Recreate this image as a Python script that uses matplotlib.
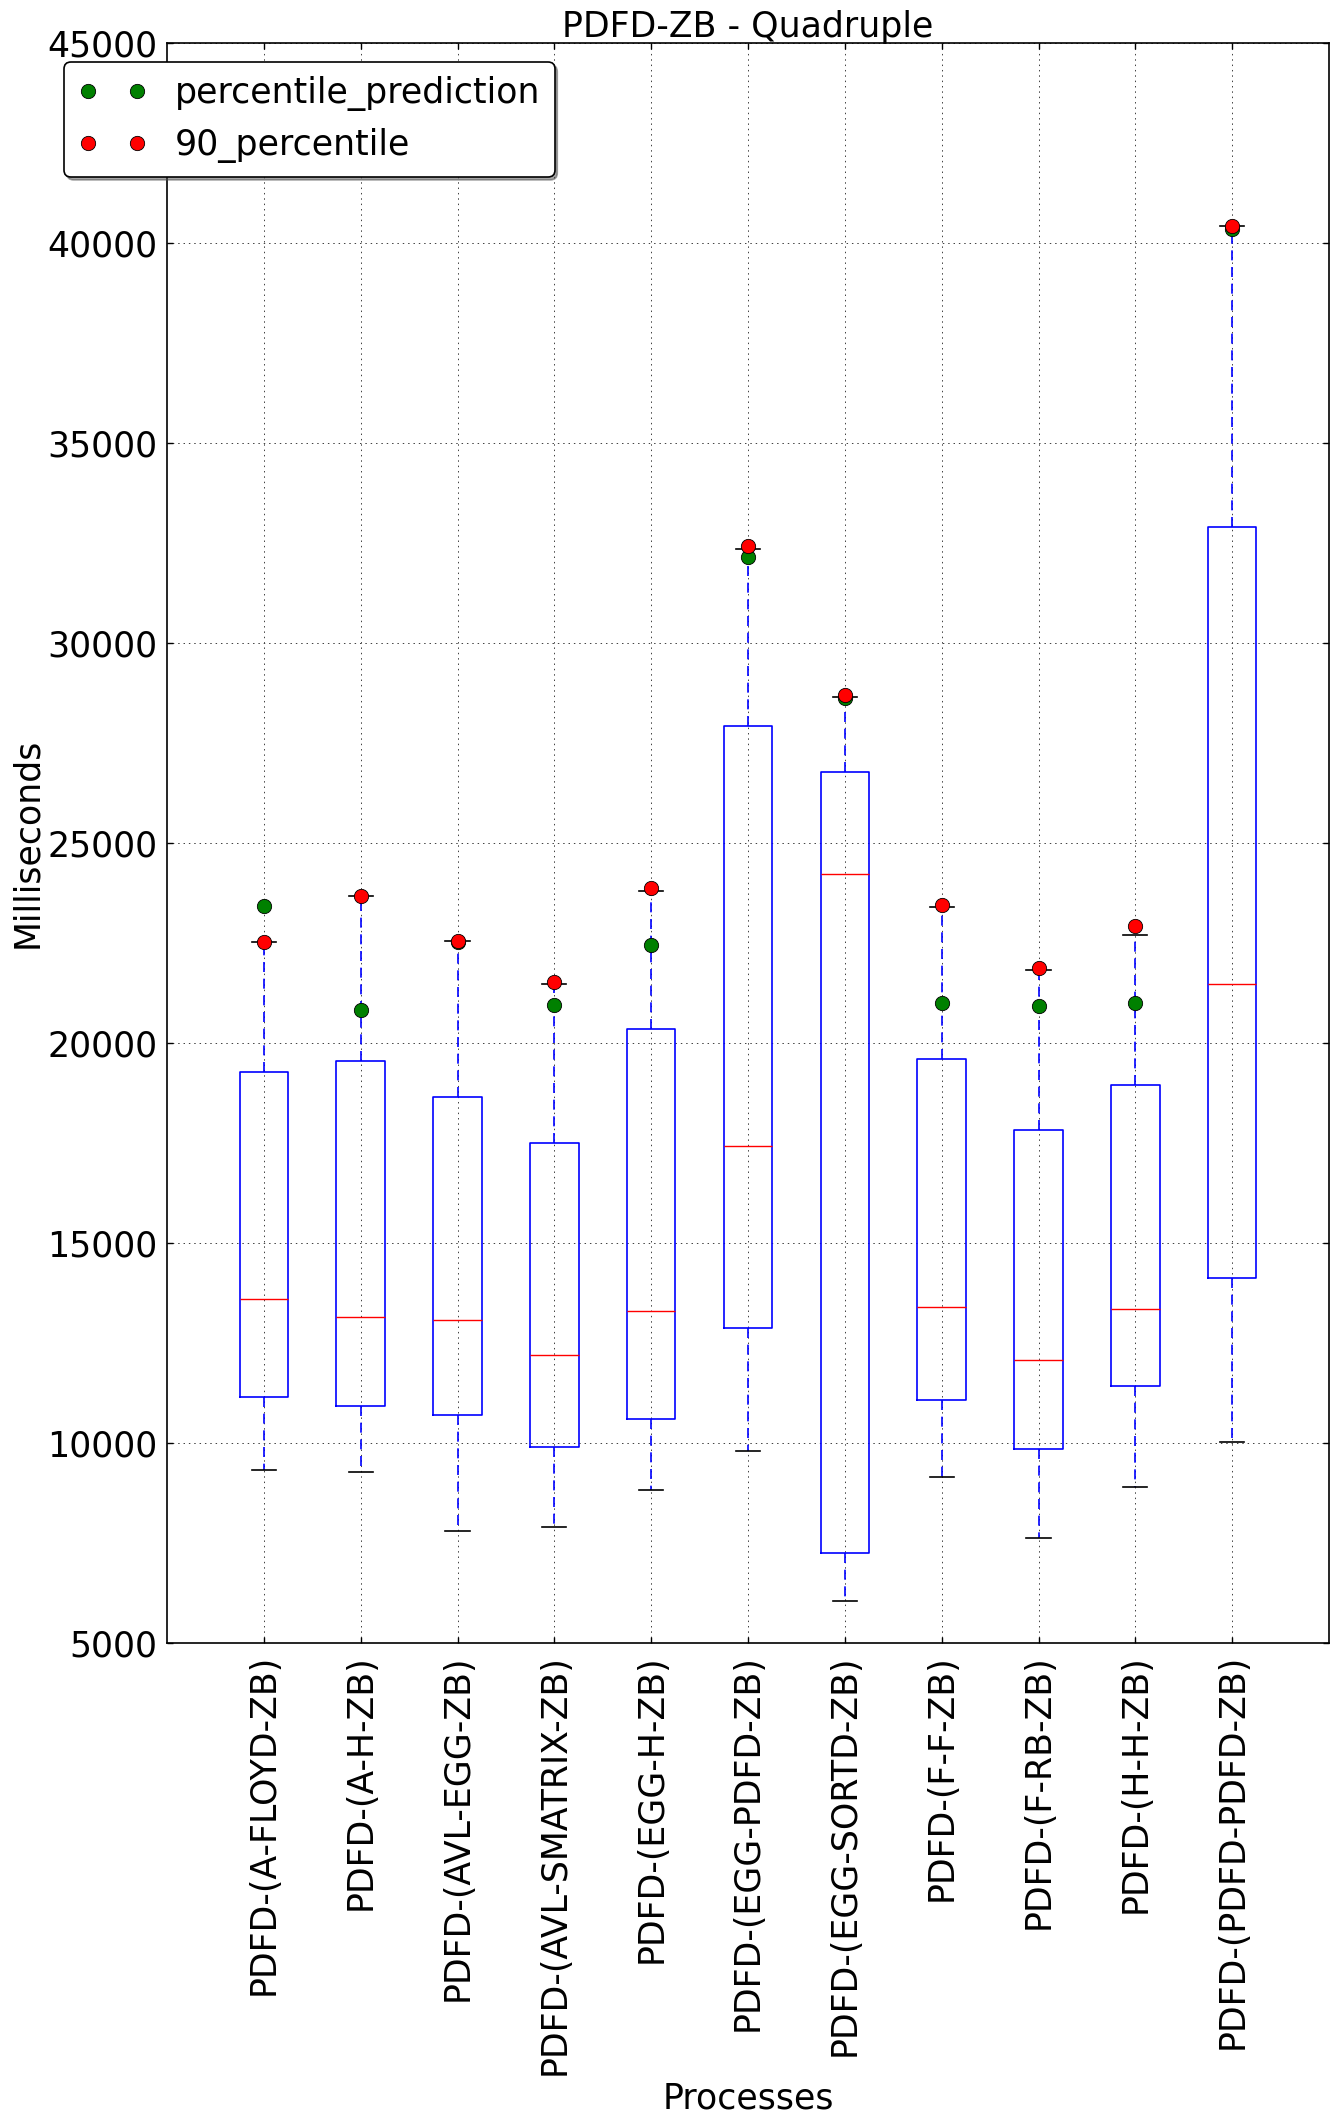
import matplotlib
matplotlib.use("Agg")
import matplotlib.pyplot as plt

labels = ['PDFD-(A-FLOYD-ZB)', 'PDFD-(A-H-ZB)', 'PDFD-(AVL-EGG-ZB)',
          'PDFD-(AVL-SMATRIX-ZB)', 'PDFD-(EGG-H-ZB)', 'PDFD-(EGG-PDFD-ZB)',
          'PDFD-(EGG-SORTD-ZB)', 'PDFD-(F-F-ZB)', 'PDFD-(F-RB-ZB)',
          'PDFD-(H-H-ZB)', 'PDFD-(PDFD-PDFD-ZB)']
whislo = [9320, 9275, 7800, 7900, 8825, 9805, 6050, 9157, 7614, 8894, 10033]
q1 = [11150, 10927, 10704, 9900, 10600, 12873, 7255, 11068, 9840, 11418, 14135]
med = [13605, 13148, 13070, 12199, 13300, 17431, 24215, 13399, 12067, 13346, 21463]
q3 = [19275, 19542, 18650, 17500, 20343, 27914, 26775, 19605, 17834, 18956, 32893]
whishi = [22533, 23683, 22545, 21484, 23806, 32349, 28650, 23409, 21831, 22707, 40425]
pred = [23426, 20837, 22522, 20949, 22458, 32139, 28615, 21007, 20920, 20990, 40342]
p90 = [22533, 23683, 22545, 21529, 23863, 32419, 28703, 23444, 21866, 22935, 40425]
yticks = [5000, 10000, 15000, 20000, 25000, 30000, 35000, 40000, 45000]

plt.rcParams['font.family'] = ['DejaVu Sans']
FS = 25

W, H = 1339, 2128
fig = plt.figure(figsize=(W / 100, H / 100), dpi=100, facecolor='white')
ax = fig.add_axes([167 / W, 1 - 1643 / H, 1162 / W, 1600 / H])

positions = list(range(1, len(labels) + 1))
stats = []
for i in range(len(labels)):
    stats.append(dict(med=med[i], q1=q1[i], q3=q3[i], whislo=whislo[i],
                      whishi=whishi[i], fliers=[], label=labels[i]))

ax.bxp(stats, positions=positions, widths=0.5, showfliers=False,
       boxprops=dict(color='blue', linewidth=1.2),
       whiskerprops=dict(color='blue', linewidth=1.2, linestyle=(0, (6, 4))),
       capprops=dict(color='black', linewidth=1.2),
       medianprops=dict(color='red', linewidth=1.0),
       zorder=3)

ax.plot(positions, pred, 'o', color='green', markeredgecolor='black',
        markeredgewidth=0.6, markersize=10.3, label='percentile_prediction', zorder=4)
ax.plot(positions, p90, 'o', color='red', markeredgecolor='black',
        markeredgewidth=0.6, markersize=10.3, label='90_percentile', zorder=5)

ax.set_xlim(0, 12)
ax.set_ylim(5000, 45000)
ax.set_yticks(yticks)
ax.set_xticks(positions)
ax.set_xticklabels(labels, rotation=90)
ax.grid(True, color='0.25', linestyle=(0, (1.5, 4)), linewidth=0.7, zorder=0)
ax.set_axisbelow(True)

ax.tick_params(axis='both', direction='in', top=True, right=True, length=4,
               width=1, labelsize=FS)
ax.tick_params(axis='y', pad=7)
ax.tick_params(axis='x', pad=8)
for s in ax.spines.values():
    s.set_linewidth(1.2)

ax.set_title('PDFD-ZB - Quadruple', fontsize=FS, pad=4)
ax.set_ylabel('Milliseconds', fontsize=FS, labelpad=2)
ax.set_xlabel('Processes', fontsize=FS, labelpad=5)

leg = ax.legend(loc='upper left', bbox_to_anchor=(64 / W, 1 - 62 / H),
                bbox_transform=fig.transFigure, borderaxespad=0,
                numpoints=2, fontsize=FS, fancybox=True, shadow=True,
                framealpha=1, handlelength=2.0, edgecolor='black')
leg.get_frame().set_linewidth(1.2)

fig.savefig('out.png', dpi=100, facecolor='white')
